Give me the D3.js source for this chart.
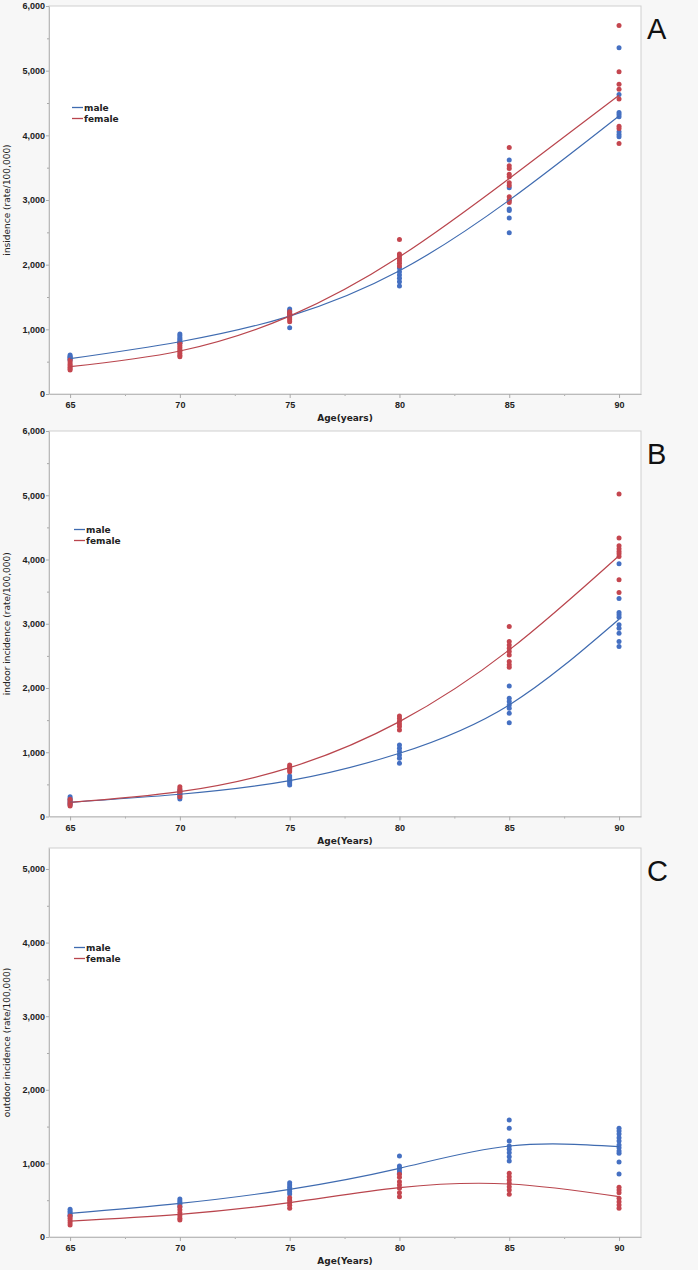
<!DOCTYPE html>
<html>
<head>
<meta charset="utf-8">
<script src="https://cdn.jsdelivr.net/npm/d3@7"></script>
<style>
  body { margin: 0; background: #f7f7f7; }
  svg { display: block; font-family: "DejaVu Sans", Verdana, sans-serif; }
  .tickLbl { font-size: 9px; font-weight: bold; fill: #222; }
  .axisTitle { font-size: 9px; fill: #222; }
  .legendText { font-size: 9px; font-weight: bold; fill: #222; }
  .panelLetter { font-family: "Liberation Sans", Arial, sans-serif; font-size: 29px; fill: #111; }
</style>
</head>
<body>
<svg id="chart" width="698" height="1270"></svg>
<script>
/*********************************************
    * Incidence by age, male / female
*********************************************/

var ages = [65, 70, 75, 80, 85, 90];
var seriesNames = ["male", "female"];

// A - insidence
var maleA = [
    [603, 585, 570, 555, 540, 525],
    [927, 900, 870, 845, 820, 800, 783],
    [1314, 1290, 1272, 1250, 1230, 1210, 1025],
    [1947, 1890, 1839, 1790, 1736, 1669],
    [3617, 3189, 3000, 2859, 2839, 2720, 2493],
    [5353, 4632, 4354, 4323, 4286, 4054, 4013, 3977]
];
var femaleA = [
    [525, 495, 465, 440, 415, 390, 370],
    [783, 750, 720, 690, 660, 630, 600, 577],
    [1272, 1250, 1225, 1200, 1175, 1150, 1117],
    [2391, 2164, 2133, 2097, 2061, 2020, 1978],
    [3812, 3529, 3488, 3400, 3359, 3266, 3225, 3050, 2998, 2963],
    [5700, 4982, 4791, 4714, 4560, 4142, 4106, 3875]
];
var maleFitA = [546, 808, 1205, 1906, 2998, 4300];
var femaleFitA = [422, 665, 1205, 2122, 3334, 4620];

// B - indoor
var maleB = [
    [308, 280, 255, 230, 205, 179],
    [413, 385, 360, 335, 300, 273],
    [631, 600, 575, 550, 520, 491],
    [1114, 1062, 1010, 958, 906, 828],
    [2033, 1841, 1788, 1737, 1685, 1607, 1461],
    [3933, 3393, 3175, 3139, 3102, 2983, 2931, 2853, 2723, 2645]
];
var femaleB = [
    [268, 240, 215, 190, 164],
    [464, 430, 400, 370, 340, 308],
    [802, 775, 750, 725, 698],
    [1565, 1524, 1483, 1441, 1399, 1347],
    [2957, 2723, 2671, 2620, 2567, 2515, 2411, 2360, 2324],
    [5018, 4333, 4213, 4167, 4125, 4089, 4048, 3684, 3486]
];
var maleFitB = [221, 346, 558, 984, 1737, 3071];
var femaleFitB = [221, 386, 760, 1477, 2593, 4060];

// C - outdoor
var maleC = [
    [376, 350, 325, 300, 285],
    [516, 490, 465, 440, 412],
    [738, 705, 675, 645, 615, 584],
    [1100, 965, 933, 897, 865],
    [1590, 1476, 1304, 1236, 1191, 1146, 1091, 1033],
    [1476, 1440, 1399, 1349, 1304, 1250, 1214, 1168, 1137, 1019, 856]
];
var femaleC = [
    [285, 255, 225, 195, 163],
    [412, 370, 330, 290, 255, 231],
    [534, 500, 465, 430, 390],
    [851, 811, 752, 707, 661, 602, 548],
    [865, 820, 774, 730, 684, 639, 580],
    [675, 639, 602, 526, 480, 435, 390]
];
var maleFitC = [322, 457, 648, 933, 1236, 1227];
var femaleFitC = [217, 308, 467, 670, 720, 548];

var yTicksAB = [0, 1000, 2000, 3000, 4000, 5000, 6000];
var yTicksC = [0, 1000, 2000, 3000, 4000, 5000];

var colors = {male: "#4570c2", female: "#c4464f"};
var lineColors = {male: "#3f6bb0", female: "#b9454d"};

var svg = d3.select("#chart");
svg.append("rect").attr("width", 698).attr("height", 1270).attr("fill", "#f7f7f7");

function drawPanel(p) {
    var x = d3.scaleLinear().domain([64.04, 91.0]).range([49, 641]);
    var y = d3.scaleLinear().domain([0, p.yMax]).range([p.bottom, p.top]);

    var g = svg.append("g").attr("class", "panel");

    // plot area
    g.append("rect")
        .attr("x", 49).attr("y", p.top)
        .attr("width", 641 - 49).attr("height", p.bottom - p.top)
        .attr("fill", "#fff")
        .attr("stroke", "#cfcfcf");

    // minor ticks
    var minorY = d3.range(500, p.yMax, 1000);
    g.append("g")
        .attr("transform", "translate(49,0)")
        .call(d3.axisLeft(y).tickValues(minorY).tickSize(2).tickFormat(""))
        .call(function(a) { a.select(".domain").remove(); a.selectAll("line").attr("stroke", "#aaa"); });
    g.append("g")
        .attr("transform", "translate(0," + p.bottom + ")")
        .call(d3.axisBottom(x).tickValues([67.5, 72.5, 77.5, 82.5, 87.5]).tickSize(2).tickFormat(""))
        .call(function(a) { a.select(".domain").remove(); a.selectAll("line").attr("stroke", "#aaa"); });

    //x-axis
    g.append("g")
        .attr("transform", "translate(0," + p.bottom + ")")
        .call(d3.axisBottom(x).tickValues(ages).tickSize(4).tickPadding(4).tickSizeOuter(0))
        .call(function(a) {
            a.select(".domain").attr("stroke", "#bbb");
            a.selectAll("line").attr("stroke", "#aaa");
            a.selectAll("text").attr("class", "tickLbl").attr("fill", null);
        });

    //y-axis
    g.append("g")
        .attr("transform", "translate(49,0)")
        .call(d3.axisLeft(y).tickValues(p.yTicks).tickSize(3).tickPadding(1).tickSizeOuter(0)
                .tickFormat(d3.format(",")))
        .call(function(a) {
            a.select(".domain").attr("stroke", "#bbb");
            a.selectAll("line").attr("stroke", "#aaa");
            a.selectAll("text").attr("class", "tickLbl").attr("fill", null);
        });

    // axis titles
    g.append("text")
        .attr("class", "axisTitle")
        .attr("x", 345).attr("y", p.bottom + 27)
        .attr("text-anchor", "middle")
        .attr("font-weight", "bold")
        .text(p.xTitle);

    g.append("text")
        .attr("class", "axisTitle")
        .attr("transform", "translate(10," + ((p.top + p.bottom) / 2) + ") rotate(-90)")
        .attr("text-anchor", "middle")
        .text(p.yTitle);

    // points
    seriesNames.forEach(function(s) {
        var pts = [];
        p.points[s].forEach(function(vals, i) {
            vals.forEach(function(v) { pts.push({age: ages[i], value: v}); });
        });
        g.append("g").selectAll("circle")
            .data(pts)
            .enter().append("circle")
            .attr("cx", function(d) { return x(d.age); })
            .attr("cy", function(d) { return y(d.value); })
            .attr("r", 2.5)
            .attr("fill", colors[s]);
    });

    // fitted curves
    var line = d3.line()
        .x(function(d, i) { return x(ages[i]); })
        .y(function(d) { return y(d); })
        .curve(d3.curveNatural);

    seriesNames.forEach(function(s) {
        g.append("path")
            .datum(p.fits[s])
            .attr("d", line)
            .attr("fill", "none")
            .attr("stroke", lineColors[s])
            .attr("stroke-width", 1.2);
    });

    // legend
    var legend = g.selectAll(".legendItem")
        .data(seriesNames)
        .enter().append("g")
        .attr("transform", function(d, i) { return "translate(" + p.legendX + "," + (p.legendY + 11 * i) + ")"; });

    legend.append("line")
        .attr("x1", 0).attr("x2", 11)
        .attr("stroke", function(d) { return lineColors[d]; })
        .attr("stroke-width", 1.3);

    legend.append("text")
        .attr("class", "legendText")
        .attr("x", 12)
        .attr("dy", "0.35em")
        .text(function(d) { return d; });

    // panel letter
    svg.append("text")
        .attr("class", "panelLetter")
        .attr("x", 647)
        .attr("y", p.top + 33)
        .text(p.letter);
}

drawPanel({
    letter: "A", top: 6, bottom: 394, yMax: 6000, yTicks: yTicksAB,
    xTitle: "Age(years)", yTitle: "insidence (rate/100,000)",
    points: {male: maleA, female: femaleA}, fits: {male: maleFitA, female: femaleFitA},
    legendX: 72, legendY: 107.5
});

drawPanel({
    letter: "B", top: 431, bottom: 816.5, yMax: 6000, yTicks: yTicksAB,
    xTitle: "Age(Years)", yTitle: "indoor incidence (rate/100,000)",
    points: {male: maleB, female: femaleB}, fits: {male: maleFitB, female: femaleFitB},
    legendX: 74, legendY: 529.5
});

drawPanel({
    letter: "C", top: 848, bottom: 1237, yMax: 5285, yTicks: yTicksC,
    xTitle: "Age(Years)", yTitle: "outdoor incidence (rate/100,000)",
    points: {male: maleC, female: femaleC}, fits: {male: maleFitC, female: femaleFitC},
    legendX: 74, legendY: 947.5
});
</script>
</body>
</html>
